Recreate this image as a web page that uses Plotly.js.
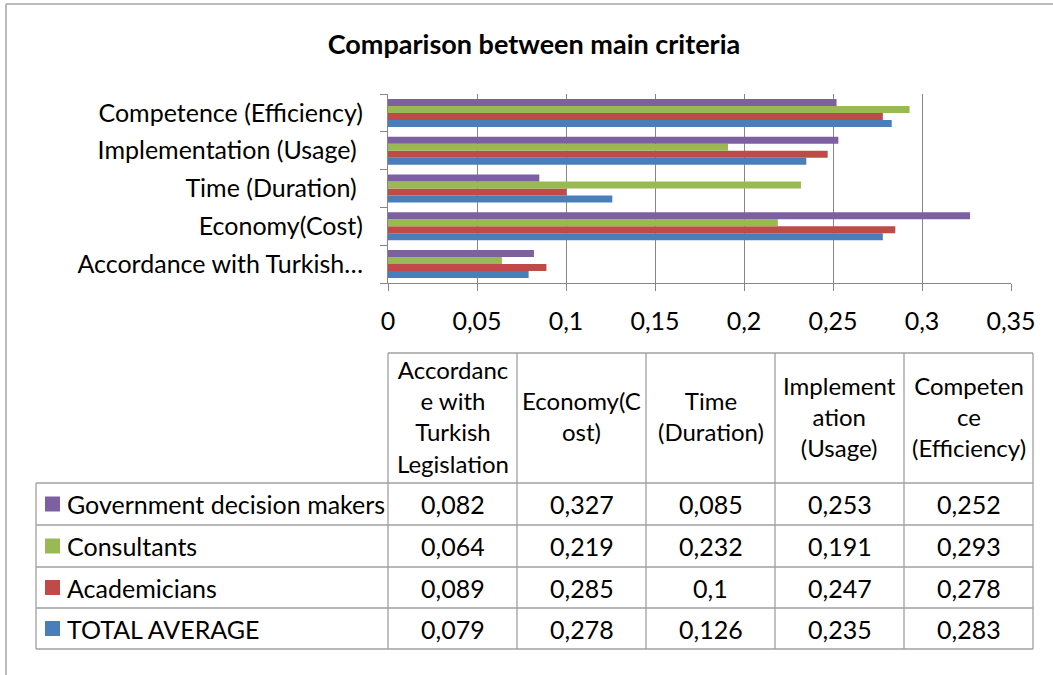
<!DOCTYPE html>
<html>
<head>
<meta charset="utf-8">
<script src="https://cdn.plot.ly/plotly-3.0.1.min.js"></script>
<style>html,body{margin:0;padding:0;background:#fff;}#chart{width:1053px;height:675px;}</style>
</head>
<body>
<div id="chart"></div>
<script>
// ---- data ----
const categories = ["Accordance with Turkish Legislation", "Economy(Cost)", "Time (Duration)", "Implementation (Usage)", "Competence (Efficiency)"];
const axisLabels = ["Accordance with Turkish…", "Economy(Cost)", "Time (Duration) ", "Implementation (Usage) ", "Competence (Efficiency)"];
const headerLabels = ["Accordanc<br>e with<br>Turkish<br>Legislation", "Economy(C<br>ost)", "Time<br>(Duration)", "Implement<br>ation<br>(Usage)", "Competen<br>ce<br>(Efficiency)"];
const seriesNames = ["TOTAL AVERAGE", "Academicians", "Consultants", "Government decision makers"];
const totalAverage = [0.079, 0.278, 0.126, 0.235, 0.283];
const academicians = [0.089, 0.285, 0.1, 0.247, 0.278];
const consultants = [0.064, 0.219, 0.232, 0.191, 0.293];
const government = [0.082, 0.327, 0.085, 0.253, 0.252];
const xTicks = [0, 0.05, 0.1, 0.15, 0.2, 0.25, 0.3, 0.35];

const seriesValues = [totalAverage, academicians, consultants, government];
const colors = ["#4A7EBB", "#BE4B48", "#98B954", "#7D60A0"];

const W = 1053, H = 675;
const FONT = "Lato, 'Open Sans', sans-serif";
const FS = 25;
const px = x => x / W;
const py = y => 1 - y / H;

const traces = seriesNames.map((name, i) => ({
  type: "bar",
  orientation: "h",
  name: name,
  y: categories,
  x: seriesValues[i],
  marker: {color: colors[i], line: {width: 0}},
  hoverinfo: "x+name"
}));

// ---- table ----
const gridColor = "#A0A0A0";
const colX = [388, 517, 646, 775, 904, 1033];
const rowY = [483, 525, 567, 608, 649];
const tableLeft = 36, headerTop = 353;
const shapes = [];
const annotations = [];

function line(x0, y0, x1, y1, color, width) {
  shapes.push({type: "line", xref: "paper", yref: "paper", x0: px(x0), y0: py(y0), x1: px(x1), y1: py(y1),
    line: {color: color, width: width}});
}
// outer chart border (top and left)
line(6, 4, W + 5, 4, "#A6A6A6", 1.5);
line(6, 4, 6, H + 5, "#A6A6A6", 1.5);

line(colX[0], headerTop, colX[5], headerTop, gridColor, 1.3);
rowY.forEach(y => line(tableLeft, y, colX[5], y, gridColor, 1.3));
line(tableLeft, rowY[0], tableLeft, rowY[4], gridColor, 1.3);
colX.forEach(x => line(x, headerTop, x, rowY[4], gridColor, 1.3));

// header cells
headerLabels.forEach((t, j) => {
  annotations.push({xref: "paper", yref: "paper", x: px((colX[j] + colX[j + 1]) / 2), y: py((headerTop + rowY[0]) / 2 - 2),
    text: t, showarrow: false, xanchor: "center", yanchor: "middle", align: "center",
    font: {family: FONT, size: 24, color: "#000"}});
});

// rows: top row is last series
const rowOrder = [3, 2, 1, 0];
rowOrder.forEach((si, r) => {
  const yc = (rowY[r] + rowY[r + 1]) / 2;
  shapes.push({type: "rect", xref: "paper", yref: "paper", x0: px(45), x1: px(60), y0: py(yc - 7.5), y1: py(yc + 7.5),
    fillcolor: colors[si], line: {width: 0}});
  annotations.push({xref: "paper", yref: "paper", x: px(65), y: py(yc), text: seriesNames[si], showarrow: false,
    xanchor: "left", yanchor: "middle", font: {family: FONT, size: FS, color: "#000"}});
  seriesValues[si].forEach((v, j) => {
    annotations.push({xref: "paper", yref: "paper", x: px((colX[j] + colX[j + 1]) / 2), y: py(yc),
      text: String(v).replace(".", ","), showarrow: false, xanchor: "center", yanchor: "middle",
      font: {family: FONT, size: FS, color: "#000"}});
  });
});

const layout = {
  width: W, height: H,
  margin: {l: 0, r: 0, t: 0, b: 0},
  paper_bgcolor: "#fff", plot_bgcolor: "#fff",
  separators: ",.",
  showlegend: false,
  barmode: "group",
  bargap: 0.26,
  bargroupgap: 0,
  font: {family: FONT, size: FS, color: "#000"},
  title: {text: "<b>Comparison between main criteria</b>", x: px(534), xanchor: "center", y: py(45), yanchor: "middle",
    font: {family: FONT, size: 27, color: "#000"}},
  xaxis: {
    domain: [px(388), px(1011)],
    range: [0, 0.35],
    tickvals: xTicks,
    showgrid: true, gridcolor: "#878787", gridwidth: 1,
    showline: true, linecolor: "#878787", linewidth: 1,
    ticks: "outside", ticklen: 7, tickcolor: "#878787",
    ticklabelstandoff: 9,
    zeroline: false,
    tickfont: {family: FONT, size: FS, color: "#000"},
    fixedrange: true
  },
  yaxis: {
    domain: [py(283), py(94)],
    type: "category",
    tickvals: categories,
    ticktext: axisLabels,
    showline: true, linecolor: "#878787", linewidth: 1,
    ticks: "outside", ticklen: 7, tickcolor: "#878787",
    tickson: "boundaries",
    showgrid: false,
    ticklabelstandoff: 19,
    tickfont: {family: FONT, size: FS, color: "#000"},
    fixedrange: true
  },
  shapes: shapes,
  annotations: annotations
};

Plotly.newPlot("chart", traces, layout, {displayModeBar: false, staticPlot: true});
</script>
</body>
</html>
